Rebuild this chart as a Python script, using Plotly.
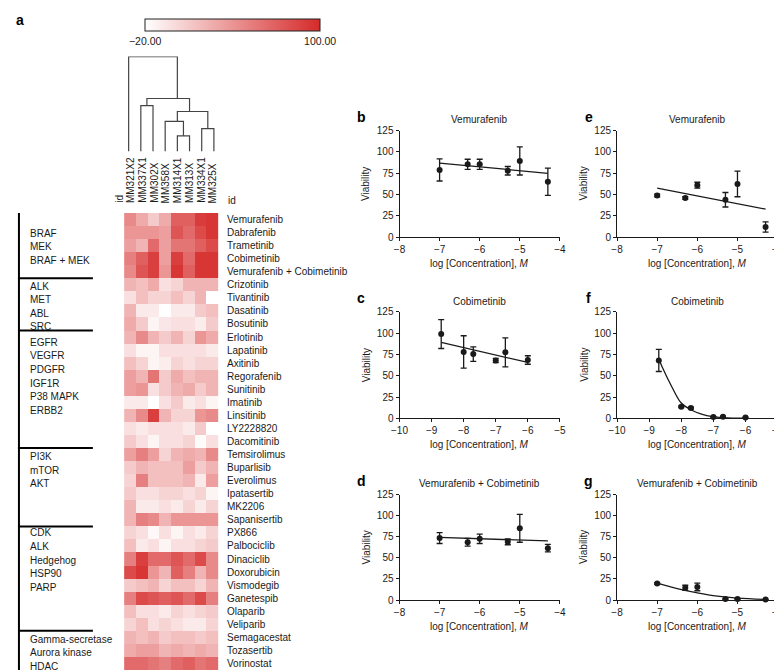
import plotly.graph_objects as go

W, H = 782, 672
def fx(p): return p / W
def fy(p): return 1 - p / H

FONT = "Liberation Sans, Arial, Helvetica, sans-serif"
INK = "#1a1a1a"

# ---------------- heatmap data ----------------
cell_lines = ["MM321X2", "MM337X1", "MM302X", "MM358X", "MM314X1", "MM313X", "MM334X1", "MM325X"]
drugs = ["Vemurafenib", "Dabrafenib", "Trametinib", "Cobimetinib", "Vemurafenib + Cobimetinib",
         "Crizotinib", "Tivantinib", "Dasatinib", "Bosutinib", "Erlotinib", "Lapatinib", "Axitinib",
         "Regorafenib", "Sunitinib", "Imatinib", "Linsitinib", "LY2228820", "Dacomitinib",
         "Temsirolimus", "Buparlisib", "Everolimus", "Ipatasertib", "MK2206", "Sapanisertib",
         "PX866", "Palbociclib", "Dinaciclib", "Doxorubicin", "Vismodegib", "Ganetespib",
         "Olaparib", "Veliparib", "Semagacestat", "Tozasertib", "Vorinostat"]
viability = [
    [46, 28, 10, 28, 70, 70, 90, 94],
    [40, 40, 40, 34, 76, 64, 82, 94],
    [34, 22, 64, 34, 58, 58, 70, 82],
    [52, 70, 88, 34, 88, 64, 94, 94],
    [46, 76, 88, 40, 94, 70, 94, 94],
    [22, 16, 28, -2, 4, 22, 22, 22],
    [-2, 16, 4, 4, 16, 4, 22, -20],
    [22, -8, -8, -20, -8, -8, 10, 16],
    [28, 10, -14, -6, -2, -2, -10, 10],
    [22, 46, 22, 10, 22, 4, 40, 28],
    [-2, -14, -14, -2, -2, -2, -2, -8],
    [16, 4, -14, -10, 4, -2, 4, 4],
    [34, 22, 58, 10, 28, 16, 22, 22],
    [34, 40, -2, 10, 22, 28, 10, 22],
    [-8, -8, -20, -2, 10, -8, -2, -14],
    [22, 46, 88, 22, 4, 4, 40, 46],
    [-2, -8, -2, -2, -2, -8, 10, -20],
    [10, -2, -14, -2, -2, 4, -18, -2],
    [34, 52, 34, 4, 22, 28, 22, 46],
    [10, 22, 16, 16, 16, 34, 10, 22],
    [4, 52, 16, 16, 16, 22, -8, 34],
    [10, -2, -2, 4, 4, -2, 4, -14],
    [22, -8, -8, -2, -8, 4, -8, 4],
    [22, 52, 46, 22, 40, 40, 40, 40],
    [4, -2, -16, -2, -14, -2, -8, 4],
    [16, -8, -2, -14, -2, -2, 4, 10],
    [52, 88, 64, 64, 76, 64, 82, 46],
    [82, 94, 40, 22, 70, 52, 22, 46],
    [10, 16, 22, 4, 16, 16, 4, 22],
    [52, 82, 76, 70, 76, 64, 82, 52],
    [16, -2, -2, -8, 4, -2, 4, 10],
    [4, 16, -2, 4, -2, -8, -8, 4],
    [22, 16, 22, 10, 16, 16, 10, 16],
    [28, 34, 34, 22, 28, 22, 28, 22],
    [64, 64, 58, 52, 64, 70, 58, 64],
]
group_names = [["BRAF", "MEK", "BRAF + MEK"],
               ["ALK", "MET", "ABL", "SRC"],
               ["EGFR", "VEGFR", "PDGFR", "IGF1R", "P38 MAPK", "ERBB2"],
               ["PI3K", "mTOR", "AKT"],
               ["CDK", "ALK", "Hedgehog", "HSP90", "PARP"],
               ["Gamma-secretase", "Aurora kinase", "HDAC"]]
group_sizes = [5, 4, 9, 6, 8, 3]
color_min, color_max = -20, 100

# dendrogram merges: (child a, child b, height); leaves 0..7, new clusters 8..
merges = [(4, 5, 0.165), (6, 7, 0.241), (3, 8, 0.317), (10, 9, 0.421),
          (1, 2, 0.483), (12, 11, 0.558), (0, 13, 1.0)]

# ---------------- dose-response data ----------------
conc_vem = [-7, -6.3, -6, -5.3, -5, -4.3]
conc_cobi = [-8.7, -8, -7.7, -7, -6.7, -6]

b_y = [79, 85.5, 85.5, 78, 89.5, 65]
b_err = [13, 6, 6, 5, 16.5, 16]
b_fit_x = [-7, -4.3]
b_fit_y = [87, 75]

c_y = [99, 78, 75.5, 68, 77.5, 68.5]
c_err = [17, 19, 8.5, 2.5, 17, 5]
c_fit_x = [-8.7, -6]
c_fit_y = [89.3, 65.6]

d_y = [73.5, 68.5, 72.5, 69, 85, 61.5]
d_err = [6.5, 4.5, 5.5, 3.5, 16.5, 4.5]
d_fit_x = [-7, -4.3]
d_fit_y = [74.2, 70]

e_y = [49, 46, 61, 44, 62.5, 12]
e_err = [1.5, 1.5, 3.5, 8.5, 15, 6]
e_fit_x = [-7, -4.3]
e_fit_y = [57.5, 33]

f_y = [68, 13.5, 12, 1.5, 2, 1]
f_err = [13, 1, 1, 0.5, 0.5, 0.5]
f_fit_x = [-8.7, -8.58, -8.28, -8, -7.67, -7.37, -7.02, -6.56, -6]
f_fit_y = [70, 59, 36, 18, 9.5, 5, 2, 0.4, 0.2]

g_y = [19.5, 14.5, 15.5, 1.2, 1.2, 0.5]
g_err = [1, 3, 4.5, 0.5, 0.5, 0.5]
g_fit_x = [-7, -6.5, -6, -5.5, -5, -4.3]
g_fit_y = [20, 13.5, 8.5, 4.6, 2.3, 0.8]

fig = go.Figure()

# ---------------- heatmap ----------------
hm_x0, hm_x1 = 108.5, 207.7
hm_top, hm_bot = 201.6, 672
fig.add_trace(go.Heatmap(
    z=viability, x=cell_lines, y=drugs, xaxis="x", yaxis="y",
    zmin=color_min, zmax=color_max,
    colorscale=[[0, "#ffffff"], [1, "#d62a2a"]],
    showscale=True,
    colorbar=dict(orientation="h", x=fx(220.6), xanchor="center", y=fy(5.5), yanchor="top",
                  len=175.3, lenmode="pixels", thickness=11.5, thicknessmode="pixels",
                  outlinewidth=1, outlinecolor="#222", xpad=0, ypad=0,
                  tickvals=[color_min, color_max], ticktext=["\u221220.00", "100.00"],
                  ticks="", tickfont=dict(size=10.5, family=FONT, color=INK)),
    hoverinfo="skip"))

# ---------------- dendrogram ----------------
pos = {i: float(i) for i in range(len(cell_lines))}
hgt = {i: 0.0 for i in range(len(cell_lines))}
members = {i: [i] for i in range(len(cell_lines))}
dxs, dys = [], []
for k, (a, b, h) in enumerate(merges):
    nid = len(cell_lines) + k
    dxs += [pos[a], pos[a], pos[b], pos[b], None]
    dys += [hgt[a], h, h, hgt[b], None]
    members[nid] = members[a] + members[b]
    pos[nid] = sum(members[nid]) / len(members[nid])
    hgt[nid] = h
fig.add_trace(go.Scatter(x=dxs, y=dys, mode="lines", xaxis="x2", yaxis="y2",
                         line=dict(color="#444", width=1.2), hoverinfo="skip"))

# ---------------- dose response panels ----------------
cols_px = [(390.5, 553.8), (612, 775.5)]
rows_px = [(118.8, 227.3), (303.3, 411.7), (489.3, 596.7)]
panels = [
    ("b", "Vemurafenib", conc_vem, b_y, b_err, b_fit_x, b_fit_y, "linear", 0, 0, [-8, -4]),
    ("c", "Cobimetinib", conc_cobi, c_y, c_err, c_fit_x, c_fit_y, "linear", 0, 1, [-10, -5]),
    ("d", "Vemurafenib + Cobimetinib", conc_vem, d_y, d_err, d_fit_x, d_fit_y, "linear", 0, 2, [-8, -4]),
    ("e", "Vemurafenib", conc_vem, e_y, e_err, e_fit_x, e_fit_y, "linear", 1, 0, [-8, -4]),
    ("f", "Cobimetinib", conc_cobi, f_y, f_err, f_fit_x, f_fit_y, "spline", 1, 1, [-10, -5]),
    ("g", "Vemurafenib + Cobimetinib", conc_vem, g_y, g_err, g_fit_x, g_fit_y, "spline", 1, 2, [-8, -4]),
]

annotations = []
layout_axes = {}
axis_common = dict(showline=True, linecolor=INK, linewidth=1, ticks="outside", ticklen=3,
                   tickwidth=1, tickcolor=INK, showgrid=False, zeroline=False,
                   tickfont=dict(size=10, family=FONT, color=INK))
for i, (letter, title, xs, ys, errs, fxs, fys, shape, ci, ri, xr) in enumerate(panels):
    n = i + 3
    xa, ya = f"x{n}", f"y{n}"
    fig.add_trace(go.Scatter(x=fxs, y=fys, mode="lines", xaxis=xa, yaxis=ya,
                             line=dict(color=INK, width=1.3, shape=shape), cliponaxis=False,
                             hoverinfo="skip"))
    fig.add_trace(go.Scatter(x=xs, y=ys, mode="markers", xaxis=xa, yaxis=ya,
                             marker=dict(color=INK, size=6),
                             error_y=dict(type="data", array=errs, visible=True, color=INK,
                                          thickness=1.3, width=3),
                             cliponaxis=False, hoverinfo="skip"))
    L, R = cols_px[ci]
    T, B = rows_px[ri]
    layout_axes[f"xaxis{n}"] = dict(domain=[fx(L), fx(R)], range=xr, anchor=ya, dtick=1, **axis_common)
    layout_axes[f"yaxis{n}"] = dict(domain=[fy(B), fy(T)], range=[0, 125], anchor=xa, dtick=25, **axis_common)
    cx = (L + R) / 2
    annotations.append(dict(text=title, x=fx(cx), y=fy(T - 11), xref="paper", yref="paper",
                            showarrow=False, xanchor="center", yanchor="middle",
                            font=dict(size=10, family=FONT, color=INK)))
    annotations.append(dict(text="log [Concentration], <i>M</i>", x=fx(cx), y=fy(B + 26.6),
                            xref="paper", yref="paper", showarrow=False, xanchor="center",
                            yanchor="middle", font=dict(size=10, family=FONT, color=INK)))
    annotations.append(dict(text="Viability", x=fx(L - 34), y=fy((T + B) / 2), xref="paper",
                            yref="paper", showarrow=False, textangle=-90, xanchor="center",
                            yanchor="middle", font=dict(size=10, family=FONT, color=INK)))
    annotations.append(dict(text=f"<b>{letter}</b>", x=fx(L - 39 if ci == 0 else L - 29), y=fy(T - 14),
                            xref="paper", yref="paper", showarrow=False, xanchor="center",
                            yanchor="middle", font=dict(size=14, family=FONT, color="#000")))

# panel a letter
annotations.append(dict(text="<b>a</b>", x=fx(4.5), y=fy(6), xref="paper", yref="paper",
                        showarrow=False, xanchor="center", yanchor="middle",
                        font=dict(size=14, family=FONT, color="#000")))

# column labels (rotated) and id labels
for cl in cell_lines:
    annotations.append(dict(text=cl, x=cl, xref="x", y=fy(194.5), yref="paper", showarrow=False,
                            textangle=-90, xanchor="center", yanchor="bottom",
                            font=dict(size=10, family=FONT, color=INK)))
annotations.append(dict(text="id", x=fx(104.5), xref="paper", y=fy(194.5), yref="paper",
                        showarrow=False, textangle=-90, xanchor="center", yanchor="bottom",
                        font=dict(size=10, family=FONT, color=INK)))
annotations.append(dict(text="id", x=fx(213.5), xref="paper", y=fy(190), yref="paper",
                        showarrow=False, xanchor="left", yanchor="middle",
                        font=dict(size=10, family=FONT, color=INK)))

# group labels and separator lines
shapes = []
label_offsets = [1.05, 0.1, 0.4, 0.15, 0.0, 0.15]
label_step = 1.04
start = 0
for gi, (names, size) in enumerate(zip(group_names, group_sizes)):
    for k, nm in enumerate(names):
        annotations.append(dict(text=nm, x=fx(12.7), xref="paper", y=start + label_offsets[gi] + k * label_step,
                                yref="y", showarrow=False, xanchor="left", yanchor="middle",
                                font=dict(size=10, family=FONT, color=INK)))
    if gi > 0:
        shapes.append(dict(type="line", xref="paper", yref="y", x0=fx(2), x1=fx(78.3),
                           y0=start - 0.5, y1=start - 0.5, line=dict(color="#000", width=2)))
    start += size
shapes.append(dict(type="line", xref="paper", yref="y", x0=fx(3), x1=fx(3),
                   y0=-0.5, y1=len(drugs) - 0.5, line=dict(color="#000", width=2)))

fig.update_layout(
    width=W, height=H, margin=dict(l=0, r=0, t=0, b=0),
    paper_bgcolor="white", plot_bgcolor="white", showlegend=False,
    font=dict(family=FONT, color=INK, size=10),
    xaxis=dict(domain=[fx(hm_x0), fx(hm_x1)], showticklabels=False, ticks="", showgrid=False,
               zeroline=False, showline=False, anchor="y"),
    yaxis=dict(domain=[fy(hm_bot), fy(hm_top)], autorange="reversed", side="right", ticks="",
               showgrid=False, zeroline=False, showline=False, ticklabelstandoff=6,
               tickfont=dict(size=10, family=FONT, color=INK), anchor="x"),
    xaxis2=dict(domain=[fx(hm_x0), fx(hm_x1)], range=[-0.5, len(cell_lines) - 0.5], visible=False, anchor="y2"),
    yaxis2=dict(domain=[fy(140), fy(43.3)], range=[0, 1], visible=False, anchor="x2"),
    annotations=annotations, shapes=shapes,
    **layout_axes,
)

fig.write_html("out.html")
